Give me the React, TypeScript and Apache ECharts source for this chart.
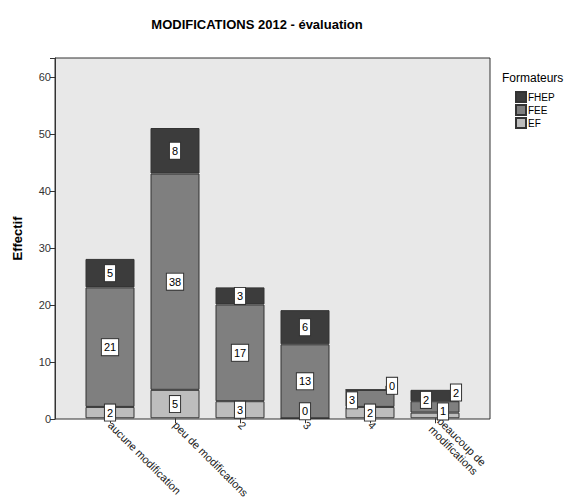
import React, { useEffect, useRef } from "react";
import * as echarts from "echarts";

const categories = ["aucune modification", "peu de modifications", "2", "3", "4", "beaucoup de\nmodifications"];
const efValues = [2, 5, 3, 0, 2, 1];
const feeValues = [21, 38, 17, 13, 3, 2];
const fhepValues = [5, 8, 3, 6, 0, 2];
const yTicks = [0, 10, 20, 30, 40, 50, 60];

const colors: Record<string, string> = { EF: "#bdbdbd", FEE: "#7f7f7f", FHEP: "#3c3c3c" };

// label nudges [dx, dy] for crowded small segments
const nudges: Record<string, Record<number, [number, number]>> = {
  EF: { 3: [0, -7], 5: [8, -4] },
  FEE: { 4: [-18, 2], 5: [-9, -7] },
  FHEP: { 4: [22, -4], 5: [21, -3] },
};

const FONT = "Liberation Sans, Arial, sans-serif";

export default function App() {
  const ref = useRef<HTMLDivElement>(null);
  useEffect(() => {
    if (!ref.current) return;
    const chart = echarts.init(ref.current, undefined, { renderer: "svg" });
    const yMax = 63.3;
    const mkSeries = (name: string, values: number[]) => ({
      name,
      type: "bar",
      stack: "total",
      xAxisIndex: 1,
      yAxisIndex: 1,
      barWidth: 49,
      data: values.map((v, i) =>
        name === "FHEP" && i !== 4 ? { value: v, labelLine: { show: false } } : v
      ),
      itemStyle: { color: colors[name], borderColor: "#333", borderWidth: 1 },
      labelLine: { show: name === "FHEP", lineStyle: { color: "#333", width: 1 } },
      label: {
        show: true,
        position: "inside",
        color: "#000",
        fontFamily: FONT,
        fontSize: 11,
        backgroundColor: "#fff",
        borderColor: "#333",
        borderWidth: 1,
        padding: [3, 2, 2, 2],
      },
      labelLayout: (p: any) => {
        const n = nudges[name][p.dataIndex];
        return n ? { dx: n[0], dy: n[1] } : {};
      },
    });
    chart.setOption({
      animation: false,
      textStyle: { fontFamily: FONT },
      title: [
        {
          text: "MODIFICATIONS 2012 - évaluation",
          left: 252,
          top: 13,
          textAlign: "center",
          textStyle: { fontFamily: FONT, fontSize: 13, fontWeight: "bold", color: "#000" },
        },
        {
          text: "Formateurs",
          left: 497,
          top: 67,
          textStyle: { fontFamily: FONT, fontSize: 12, fontWeight: "normal", color: "#000" },
        },
      ],
      legend: {
        data: ["FHEP", "FEE", "EF"],
        orient: "vertical",
        left: 510,
        top: 86,
        itemWidth: 10,
        itemHeight: 10,
        itemGap: 1,
        icon: "rect",
        textStyle: { fontFamily: FONT, fontSize: 10, color: "#000", padding: [0, 0, 0, -3] },
      },
      grid: [
        {
          left: 55, right: 77, top: 58, bottom: 82,
          show: true, backgroundColor: "#e8e8e8", borderColor: "#333", borderWidth: 1,
        },
        { left: 77.5, right: 99.5, top: 58, bottom: 82 },
      ],
      xAxis: [
        { gridIndex: 0, type: "value", show: false, min: 0, max: 1 },
        {
          gridIndex: 1,
          type: "category",
          data: categories,
          axisLine: { show: false },
          axisTick: { show: true, alignWithLabel: true, length: 5, lineStyle: { color: "#333" } },
          axisLabel: {
            rotate: -45,
            interval: 0,
            fontFamily: FONT,
            fontSize: 11,
            color: "#222",
            margin: 5,
            lineHeight: 12,
          },
        },
      ],
      yAxis: [
        {
          gridIndex: 0,
          type: "value",
          min: 0,
          max: yMax,
          interval: 10,
          name: "Effectif",
          nameLocation: "middle",
          nameGap: 31,
          nameTextStyle: { fontFamily: FONT, fontSize: 13, fontWeight: "bold", color: "#000" },
          axisLine: { show: true, lineStyle: { color: "#333" } },
          axisTick: { show: true, length: 5, lineStyle: { color: "#333" } },
          axisLabel: {
            fontFamily: FONT, fontSize: 11, color: "#333", margin: 4,
            formatter: (v: number) => (yTicks.includes(v) ? String(v) : ""),
          },
          splitLine: { show: false },
        },
        { gridIndex: 1, type: "value", min: 0, max: yMax, show: false, splitLine: { show: false } },
      ],
      series: [
        mkSeries("EF", efValues),
        mkSeries("FEE", feeValues),
        mkSeries("FHEP", fhepValues),
      ],
    });
    return () => chart.dispose();
  }, []);
  return <div ref={ref} style={{ width: 567, height: 501, position: "absolute", left: 0, top: 0 }} />;
}
